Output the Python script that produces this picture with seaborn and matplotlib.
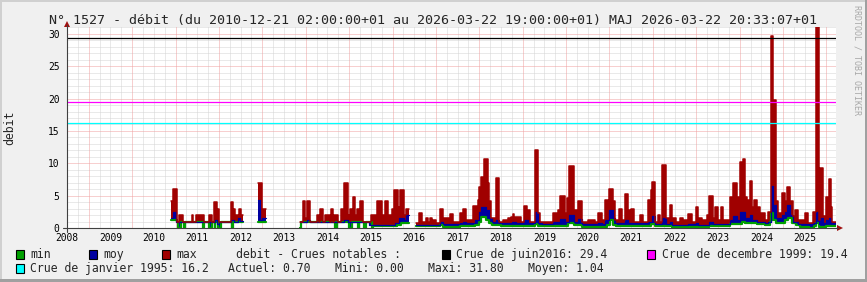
import numpy as np
import pandas as pd
import matplotlib
matplotlib.use("Agg")
import matplotlib.pyplot as plt
from matplotlib.patches import Rectangle, Polygon
from matplotlib.lines import Line2D
import seaborn as sns

nan = np.nan

# ---------------- data (change points: fractional year, value) ----------------
max_steps = [
    (2010.40, 4.1), (2010.45, 6.0), (2010.53, 0.9), (2010.58, 2.0), (2010.67, 0.9),
    (2010.87, 2.0), (2010.91, 0.9), (2010.97, 2.0), (2011.16, 0.9), (2011.27, 2.0),
    (2011.33, 0.9), (2011.39, 4.0), (2011.46, 2.9), (2011.50, 0.9), (2011.78, 4.0),
    (2011.83, 2.0), (2011.85, 2.9), (2011.88, 2.0), (2011.96, 2.9), (2012.02, 2.0),
    (2012.05, nan),
    (2012.41, 6.9), (2012.49, 2.9), (2012.59, nan),
    (2013.37, 1.0), (2013.43, 4.1), (2013.49, 1.5), (2013.52, 4.1), (2013.60, 0.9),
    (2013.75, 2.0), (2013.80, 0.9), (2013.83, 2.9), (2013.89, 0.9), (2013.94, 2.0),
    (2014.06, 0.9), (2014.08, 2.9), (2014.14, 0.9), (2014.15, 2.0), (2014.24, 0.9),
    (2014.31, 2.9), (2014.39, 6.9), (2014.47, 2.0), (2014.52, 2.9), (2014.58, 4.8),
    (2014.64, 2.0), (2014.68, 2.9), (2014.75, 4.1), (2014.82, 0.9), (2015.00, 2.0),
    (2015.15, 4.1), (2015.25, 2.0), (2015.33, 4.1), (2015.39, 2.0), (2015.48, 2.9),
    (2015.54, 5.8), (2015.62, 3.3), (2015.67, 5.8), (2015.76, 2.0), (2015.81, 3.0),
    (2015.88, nan),
    (2016.04, 0.7), (2016.12, 2.3), (2016.19, 0.9), (2016.27, 1.6), (2016.32, 0.9),
    (2016.37, 1.6), (2016.42, 0.9), (2016.44, 1.2), (2016.50, 0.7), (2016.59, 2.9),
    (2016.67, 1.5), (2016.83, 2.1), (2016.90, 1.0), (2017.06, 2.3), (2017.12, 3.0),
    (2017.20, 1.3), (2017.36, 3.4), (2017.46, 4.3), (2017.50, 6.3), (2017.55, 7.9),
    (2017.61, 10.6), (2017.69, 6.9), (2017.73, 4.1), (2017.78, 1.5), (2017.88, 7.7),
    (2017.95, 1.0), (2018.05, 1.3), (2018.15, 1.5), (2018.24, 1.7), (2018.28, 2.1),
    (2018.31, 1.7), (2018.47, 1.0), (2018.53, 3.4), (2018.60, 2.8), (2018.67, 1.0),
    (2018.78, 12.0), (2018.86, 2.3), (2018.90, 1.0), (2019.20, 2.3), (2019.32, 2.8),
    (2019.37, 5.0), (2019.47, 2.3), (2019.51, 4.6), (2019.57, 9.6), (2019.69, 2.8),
    (2019.78, 4.1), (2019.86, 1.0), (2020.00, 1.2), (2020.17, 1.0), (2020.24, 2.3),
    (2020.32, 1.2), (2020.40, 4.3), (2020.47, 3.4), (2020.50, 6.1), (2020.57, 4.2),
    (2020.62, 1.2), (2020.73, 3.0), (2020.78, 1.2), (2020.86, 5.2), (2020.93, 2.8),
    (2020.99, 2.9), (2021.06, 1.0), (2021.20, 2.0), (2021.28, 0.9), (2021.39, 4.3),
    (2021.45, 5.9), (2021.49, 7.1), (2021.55, 1.0), (2021.62, 2.0), (2021.67, 1.0),
    (2021.72, 9.7), (2021.80, 1.5), (2021.89, 3.6), (2021.95, 1.6), (2022.04, 1.0),
    (2022.13, 1.6), (2022.19, 1.2), (2022.31, 2.2), (2022.39, 1.0), (2022.49, 3.3),
    (2022.55, 1.5), (2022.62, 1.3), (2022.74, 2.0), (2022.80, 4.9), (2022.88, 1.6),
    (2022.93, 3.2), (2023.00, 1.3), (2023.06, 3.2), (2023.12, 1.2), (2023.28, 4.8),
    (2023.35, 6.9), (2023.43, 4.8), (2023.51, 10.2), (2023.57, 10.6), (2023.62, 4.8),
    (2023.66, 4.3), (2023.74, 7.2), (2023.79, 3.3), (2023.83, 4.3), (2023.90, 3.3),
    (2023.97, 2.3), (2024.08, 1.2), (2024.16, 2.5), (2024.22, 29.7), (2024.27, 19.8),
    (2024.33, 4.1), (2024.39, 2.3), (2024.47, 5.4), (2024.55, 4.1), (2024.60, 6.4),
    (2024.66, 4.1), (2024.72, 1.8), (2024.77, 2.8), (2024.85, 1.2), (2025.00, 2.3),
    (2025.08, 0.8), (2025.20, 2.5), (2025.26, 31.8), (2025.32, 1.2), (2025.35, 9.2),
    (2025.42, 1.8), (2025.49, 4.8), (2025.55, 7.5), (2025.60, 3.3), (2025.63, 1.0),
]

moy_steps = [
    (2010.40, 1.5), (2010.45, 2.5), (2010.52, 0.9), (2011.40, 1.3), (2011.46, 0.6),
    (2011.50, 0.9), (2011.78, 1.2), (2011.85, 1.0), (2011.93, 1.5), (2011.98, 1.1),
    (2012.05, nan),
    (2012.41, 4.3), (2012.44, 1.2), (2012.50, 1.6), (2012.59, nan),
    (2013.37, 0.9), (2013.52, 1.3), (2013.60, 0.9), (2014.39, 1.2), (2014.47, 0.9),
    (2014.95, 0.4), (2015.55, 0.8), (2015.65, 1.5), (2015.76, 1.2), (2015.81, 2.0),
    (2015.88, nan),
    (2016.04, 0.5), (2016.59, 0.9), (2016.67, 0.6), (2017.05, 0.8), (2017.12, 1.0),
    (2017.20, 0.7), (2017.40, 1.2), (2017.50, 2.5), (2017.55, 3.3), (2017.65, 2.8),
    (2017.72, 1.5), (2017.80, 0.9), (2017.88, 1.3), (2017.95, 0.7), (2018.25, 1.0),
    (2018.35, 0.8), (2018.53, 1.2), (2018.62, 0.7), (2018.78, 2.5), (2018.86, 0.8),
    (2018.95, 0.6), (2019.20, 0.9), (2019.37, 1.4), (2019.47, 0.9), (2019.57, 2.0),
    (2019.69, 0.9), (2019.78, 1.4), (2019.86, 0.6), (2020.24, 0.8), (2020.32, 0.6),
    (2020.40, 1.2), (2020.50, 2.8), (2020.57, 1.5), (2020.62, 0.7), (2020.86, 1.3),
    (2020.93, 0.8), (2021.20, 0.7), (2021.39, 1.0), (2021.49, 1.8), (2021.55, 0.6),
    (2021.72, 1.6), (2021.80, 0.6), (2021.89, 1.0), (2021.95, 0.5), (2022.30, 0.6),
    (2022.49, 0.8), (2022.55, 0.4), (2022.80, 1.0), (2022.88, 0.6), (2023.28, 1.2),
    (2023.35, 1.8), (2023.43, 1.3), (2023.51, 2.5), (2023.62, 1.5), (2023.74, 2.0),
    (2023.79, 1.2), (2023.90, 1.0), (2024.08, 0.7), (2024.16, 1.0), (2024.22, 6.5),
    (2024.27, 3.5), (2024.33, 1.5), (2024.47, 2.0), (2024.55, 2.5), (2024.60, 3.5),
    (2024.66, 2.0), (2024.72, 1.0), (2024.85, 0.6), (2025.20, 0.8), (2025.26, 2.5),
    (2025.32, 0.6), (2025.35, 1.5), (2025.42, 0.7), (2025.49, 1.2), (2025.55, 1.6),
    (2025.60, 0.7),
]

min_steps = [
    (2010.40, 1.3), (2010.53, 0.9), (2010.55, 0.0), (2010.62, 0.9), (2010.70, 0.0),
    (2010.73, 0.9), (2011.14, 0.0), (2011.16, 0.9), (2011.27, 0.0), (2011.33, 0.9),
    (2011.40, 0.0), (2011.42, 0.9), (2011.47, 0.0), (2011.54, 0.9), (2011.80, 0.0),
    (2011.82, 0.9), (2012.05, nan),
    (2012.41, 0.9), (2012.59, nan),
    (2013.37, 0.0), (2013.40, 0.9), (2014.18, 0.0), (2014.21, 0.9), (2014.50, 0.0),
    (2014.56, 0.9), (2014.70, 0.0), (2014.73, 0.9), (2014.85, 0.0), (2014.90, 0.9),
    (2015.02, 0.0), (2015.05, 0.3), (2015.60, 0.5), (2015.70, 0.8), (2015.88, nan),
    (2016.04, 0.3), (2016.59, 0.4), (2016.67, 0.2), (2017.05, 0.3), (2017.40, 0.5),
    (2017.50, 1.0), (2017.55, 1.7), (2017.65, 1.3), (2017.72, 0.8), (2017.80, 0.4),
    (2018.00, 0.3), (2018.78, 0.6), (2018.86, 0.3), (2019.55, 0.7), (2019.69, 0.4),
    (2019.86, 0.2), (2020.45, 0.5), (2020.52, 1.2), (2020.57, 0.5), (2020.65, 0.3),
    (2021.45, 0.6), (2021.55, 0.3), (2021.95, 0.2), (2022.80, 0.3), (2023.28, 0.6),
    (2023.55, 0.9), (2023.62, 0.7), (2023.90, 0.6), (2024.08, 0.4), (2024.20, 1.0),
    (2024.22, 2.3), (2024.27, 1.2), (2024.33, 0.8), (2024.55, 1.2), (2024.62, 1.5),
    (2024.70, 0.8), (2024.80, 0.4), (2024.90, 0.2), (2025.10, 0.0), (2025.22, 0.3),
    (2025.26, 0.8), (2025.32, 0.2), (2025.50, 0.3),
]
data_end = 2025.72

hrule_values = [29.4, 19.4, 16.2]
hrule_colors = ["#000000", "#ff00ff", "#00ffff"]
year_labels = list(range(2008, 2026))
y_ticks = [0, 5, 10, 15, 20, 25, 30]

title = ("N° 1527 - débit (du 2010-12-21 02:00:00+01 au 2026-03-22 19:00:00+01) "
         "MAJ 2026-03-22 20:33:07+01")

# ---------------- style ----------------
sns.set_theme(style="white")
plt.rcParams["font.family"] = ["DejaVu Sans Mono"]
MONO = "DejaVu Sans Mono"

W, H = 867, 282
fig = plt.figure(figsize=(W / 100, H / 100), dpi=100)
fig.patch.set_facecolor("#f0f0f0")

def fx(x):
    return x / W

def fy(y):
    return 1 - y / H

L, R, B, T = 67, 836, 228, 27
ax = fig.add_axes([fx(L), fy(B), (R - L) / W, (B - T) / H])
ax.set_facecolor("white")
x0 = 2008.0
xmax = x0 + (R - L) / 43.4
ymax = (B - T) / 6.47
ax.set_xlim(x0, xmax)
ax.set_ylim(0, ymax)
for s in ax.spines.values():
    s.set_visible(False)

# grid
DOT = (0, (1, 1))
for k in range(0, 32):
    if k % 5:
        ax.axhline(k, color="#d4d4d4", lw=0.72, ls=DOT, zorder=0.5)
for k in range(5, 32, 5):
    ax.axhline(k, color="#f0a0a0", lw=0.72, ls=DOT, zorder=0.6)
for q in np.arange(2008.0, 2026.0, 0.25):
    if abs((q % 1) - 0.5) < 1e-6:
        ax.axvline(q, color="#f0a0a0", lw=0.72, ls=DOT, zorder=0.6)
    else:
        ax.axvline(q, color="#d4d4d4", lw=0.72, ls=DOT, zorder=0.5)

# ---------------- series ----------------
grid = np.unique(np.concatenate(
    [np.array([p[0] for p in s]) for s in (max_steps, moy_steps, min_steps)] + [np.array([data_end])]))

def lookup(steps, g):
    t = np.array([p[0] for p in steps])
    v = np.array([p[1] for p in steps], float)
    idx = np.searchsorted(t, g, side="right") - 1
    return np.where(idx >= 0, v[np.clip(idx, 0, None)], np.nan)

starts, ends = grid[:-1], grid[1:]
v_max = lookup(max_steps, starts)
v_moy = lookup(moy_steps, starts)
v_min = lookup(min_steps, starts)
valid = ~np.isnan(v_max)
v_moy = np.where(valid, v_moy, np.nan)
v_min = np.where(valid, v_min, np.nan)

X = np.column_stack([starts, ends]).ravel()
def rep(v):
    return np.repeat(v, 2)

ax.fill_between(X, rep(v_moy), rep(v_max), color="#a00000", lw=0, zorder=2)
ax.fill_between(X, rep(v_min), rep(v_moy), color="#0000a0", lw=0, zorder=3)

def line_frame(vals, name):
    rows = []
    chunk = 0
    prev_ok = False
    for a, b, v in zip(starts, ends, vals):
        if np.isnan(v):
            if prev_ok:
                chunk += 1
            prev_ok = False
            continue
        rows.append((a, v, chunk, name))
        rows.append((b, v, chunk, name))
        prev_ok = True
    return pd.DataFrame(rows, columns=["t", "v", "chunk", "series"])

df_min = line_frame(v_min, "min")
df_moy = line_frame(v_moy, "moy")
df_max = line_frame(v_max, "max")
sns.lineplot(data=df_min, x="t", y="v", units="chunk", estimator=None, sort=False,
             color="#00a000", linewidth=1.6, ax=ax, legend=False, zorder=4)
sns.lineplot(data=df_moy, x="t", y="v", units="chunk", estimator=None, sort=False,
             color="#0000a0", linewidth=0.9, ax=ax, legend=False, zorder=5)
sns.lineplot(data=df_max, x="t", y="v", units="chunk", estimator=None, sort=False,
             color="#a00000", linewidth=1.1, ax=ax, legend=False, zorder=6)

for v, c in zip(hrule_values, hrule_colors):
    ax.axhline(v, color=c, lw=0.9, zorder=7)

ax.set_xlabel("")
ax.set_ylabel("")
ax.set_xticks(year_labels)
ax.set_xticklabels([str(y) for y in year_labels], fontsize=6.9, family=MONO)
ax.set_yticks(y_ticks)
ax.set_yticklabels([str(y) for y in y_ticks], fontsize=6.9, family=MONO)
ax.tick_params(axis="x", length=0, pad=3.6, colors="#000000")
ax.tick_params(axis="y", length=0, pad=5.4, colors="#000000")
ax.set_xlim(x0, xmax)
ax.set_ylim(0, ymax)

# ---------------- axes lines and arrows ----------------
fig.add_artist(Line2D([fx(63), fx(838)], [fy(228), fy(228)], color="#404040", lw=0.8))
fig.add_artist(Line2D([fx(67), fx(67)], [fy(232), fy(25)], color="#404040", lw=0.8))
fig.add_artist(Polygon([(fx(64), fy(27)), (fx(70), fy(27)), (fx(67), fy(21))],
                       closed=True, transform=fig.transFigure, color="#a01010", lw=0))
fig.add_artist(Polygon([(fx(837), fy(225)), (fx(837), fy(231)), (fx(843), fy(228))],
                       closed=True, transform=fig.transFigure, color="#a01010", lw=0))

# ---------------- texts ----------------
fig.text(fx(49), fy(24), title, fontsize=9.6, family=MONO, va="baseline", ha="left")
fig.text(fx(10), fy(128), "debit", rotation=90, fontsize=8.3, family=MONO,
         va="center", ha="center")
fig.text(fx(857), fy(5), "RRDTOOL / TOBI OETIKER", rotation=-90, fontsize=6,
         family=MONO, va="top", ha="center", color="#a8a8a8")

def box(x, y, color):
    fig.add_artist(Rectangle((fx(x), fy(y + 8.5)), 8 / W, 8.5 / H,
                             transform=fig.transFigure, facecolor=color,
                             edgecolor="black", lw=0.8))

r1, r2 = 258.3, 272.0
box(15.5, 250, "#00a000")
box(88.5, 250, "#0000a0")
box(161.5, 250, "#a00000")
box(441.5, 250, "#000000")
box(647, 250, "#ff00ff")
box(15.5, 264, "#00ffff")
legend_row1 = [(30, "min"), (103, "moy"), (176, "max"), (236, "debit - Crues notables :"),
               (456, "Crue de juin2016: 29.4"), (662, "Crue de decembre 1999: 19.4")]
legend_row2 = [(30, "Crue de janvier 1995: 16.2"), (228, "Actuel: 0.70"), (335, "Mini: 0.00"),
               (428, "Maxi: 31.80"), (528, "Moyen: 1.04")]
for x, s in legend_row1:
    fig.text(fx(x), fy(r1), s, fontsize=8.3, family=MONO, va="baseline", ha="left")
for x, s in legend_row2:
    fig.text(fx(x), fy(r2), s, fontsize=8.3, family=MONO, va="baseline", ha="left")

# border shading
fig.add_artist(Rectangle((0, fy(2)), 1, 2 / H, transform=fig.transFigure, color="#d0d0d0", lw=0))
fig.add_artist(Rectangle((0, 0), 2 / W, 1, transform=fig.transFigure, color="#d0d0d0", lw=0))
fig.add_artist(Rectangle((0, 0), 1, 3 / H, transform=fig.transFigure, color="#a0a0a0", lw=0))
fig.add_artist(Rectangle((fx(865), 0), 2 / W, 1, transform=fig.transFigure, color="#a0a0a0", lw=0))

fig.savefig("out.png", dpi=100, facecolor=fig.get_facecolor())
